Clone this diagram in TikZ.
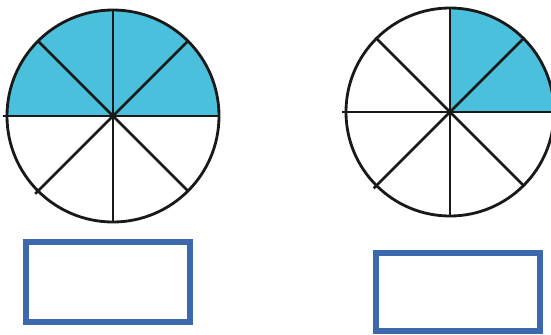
\documentclass[tikz,border=0pt]{standalone}
\usepackage{tikz}
\usetikzlibrary{positioning}
\definecolor{c1}{HTML}{4BC0DC}
\definecolor{c2}{HTML}{3C68AE}

\begin{document}
\begin{tikzpicture}[
  x=0.5mm,y=-0.5mm,
  disc/.style={draw=black!90,line width=4pt},
  spoke/.style={draw=black!90,line width=3.8pt},
  slice/.style={fill=c1},
  answer/.style={rectangle,draw=c2,line width=7.5pt,fill=white,inner sep=0pt}]

\useasboundingbox (0,0) rectangle (551,335);

% left fraction: 4/8
\coordinate (L) at (113,116);
\fill[slice] (L) -- ++(0:53mm) arc[start angle=0,end angle=180,radius=53mm] -- cycle;
\draw[disc] (L) circle[radius=53mm];
\foreach \a in {0,45,90,135,270,315} \draw[spoke] (L) -- ++(\a:53mm);
\foreach \a in {180,225} \draw[spoke] (L) -- ++(\a:55mm);

% right fraction: 2/8
\coordinate (R) at (450,112);
\fill[slice] (R) -- ++(0:52mm) arc[start angle=0,end angle=90,radius=52mm] -- cycle;
\draw[disc] (R) circle[radius=52mm];
\foreach \a in {0,45,90,135,270,315} \draw[spoke] (R) -- ++(\a:52mm);
\foreach \a in {180,225} \draw[spoke] (R) -- ++(\a:54mm);

% answer boxes
\node[answer,minimum width=82mm,minimum height=40mm] (boxL) at (108,282) {};
\node[answer,minimum width=82mm,minimum height=39mm] (boxR) at (458,292) {};
\end{tikzpicture}
\end{document}
